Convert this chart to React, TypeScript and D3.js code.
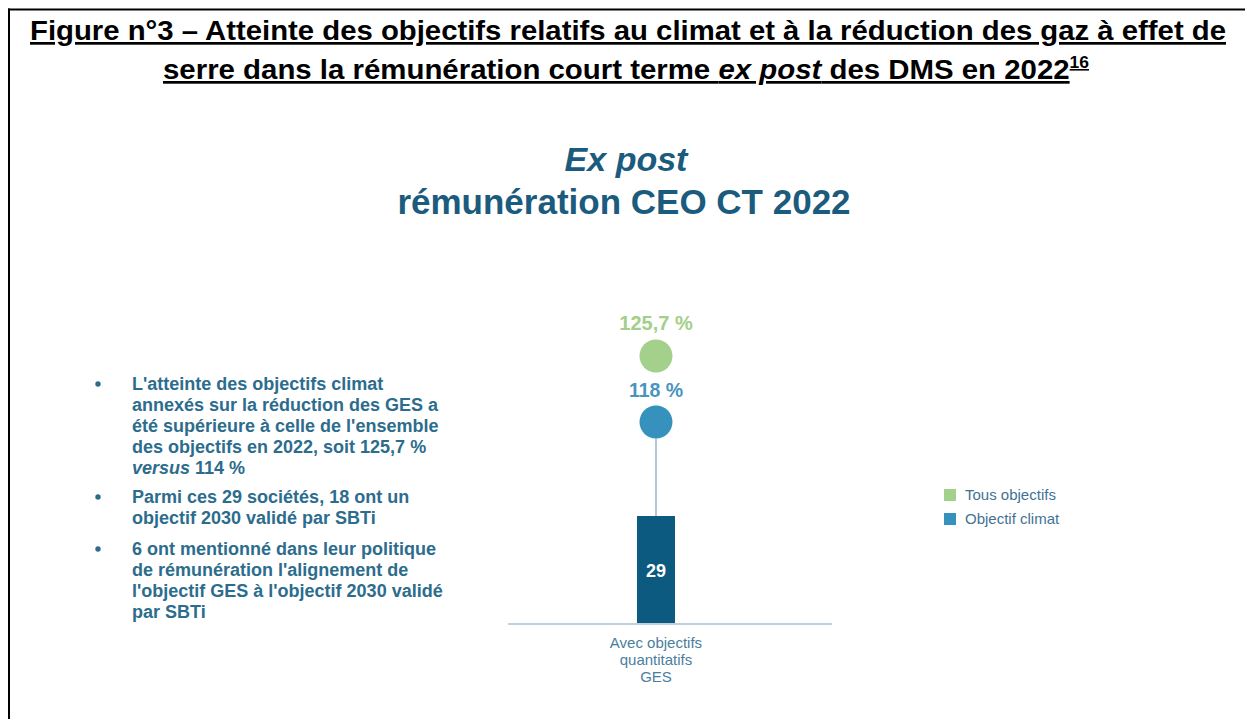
import React from "react";
import * as d3 from "d3";

// ---------- data ----------
const categories = ["Avec objectifs quantitatifs GES"];
const categoryLabelLines = [["Avec objectifs", "quantitatifs", "GES"]];
const barValues = [29]; // nombre de sociétés
const seriesNames = ["Tous objectifs", "Objectif climat"];
const tousObjectifs = [125.7];
const objectifClimat = [118];

const bullets: string[][] = [
  [
    "L'atteinte des objectifs climat",
    "annexés sur la réduction des GES a",
    "été supérieure à celle de l'ensemble",
    "des objectifs en 2022, soit 125,7 %",
    "§versus§ 114 %",
  ],
  ["Parmi ces 29 sociétés, 18 ont un", "objectif 2030 validé par SBTi"],
  [
    "6 ont mentionné dans leur politique",
    "de rémunération l'alignement de",
    "l'objectif GES à l'objectif 2030 validé",
    "par SBTi",
  ],
];

// ---------- styles ----------
const FONT = "'Liberation Sans', Arial, Helvetica, sans-serif";
const C = {
  chartTitle: "#1b5b7d",
  bar: "#0c5a80",
  green: "#a3d18b",
  blue: "#3791bd",
  greenLabel: "#a2cf89",
  blueLabel: "#4795bf",
  stem: "#9dbdd1",
  axis: "#a9c3d3",
  cat: "#4a7ea0",
  legend: "#3f7394",
  bullet: "#2c6c8d",
};

const frLocale = d3.formatLocale({
  decimal: ",",
  thousands: " ",
  grouping: [3],
  currency: ["", " €"],
});
const fmtPct = (v: number) =>
  (Number.isInteger(v) ? frLocale.format("d")(v) : frLocale.format(".1f")(v)) + " %";

export default function App() {
  const W = 1245;
  const H = 719;

  const x = d3
    .scaleBand<string>()
    .domain(categories)
    .range([508, 832])
    .paddingInner(0)
    .paddingOuter(3.763)
    .align(0.451);

  const yCount = d3
    .scaleLinear()
    .domain([0, d3.max(barValues) as number])
    .range([623, 516]);

  const pctExtent = d3.extent([...tousObjectifs, ...objectifClimat]) as [number, number];
  const yPct = d3.scaleLinear().domain(pctExtent).range([422, 356]);

  const R = 16.5;
  const bw = x.bandwidth();

  const bulletBase = [390, 503, 555];
  const lineStep = 21;

  return (
    <svg
      width={W}
      height={H}
      viewBox={`0 0 ${W} ${H}`}
      style={{ position: "absolute", left: 0, top: 0, background: "#fff" }}
      fontFamily={FONT}
    >
      <rect x={0} y={0} width={W} height={H} fill="#fff" />
      {/* frame */}
      <line x1={8} x2={W} y1={9.5} y2={9.5} stroke="#000" strokeWidth={2} />
      <line x1={9} x2={9} y1={8.5} y2={H} stroke="#000" strokeWidth={2} />

      {/* figure title */}
      <text
        x={628}
        y={40}
        textAnchor="middle"
        fontSize={27}
        fontWeight="bold"
        fill="#000"
        textDecoration="underline"
        textLength={1196}
        lengthAdjust="spacingAndGlyphs"
      >
        Figure n°3 – Atteinte des objectifs relatifs au climat et à la réduction des gaz à effet de
      </text>
      <text
        x={626}
        y={79}
        textAnchor="middle"
        fontSize={27}
        fontWeight="bold"
        fill="#000"
        textDecoration="underline"
        textLength={926}
        lengthAdjust="spacingAndGlyphs"
      >
        serre dans la rémunération court terme <tspan fontStyle="italic">ex post</tspan> des DMS en 2022
        <tspan fontSize={16} dy={-11}>16</tspan>
      </text>

      {/* chart title */}
      <text x={626} y={171} textAnchor="middle" fontSize={34} fontWeight="bold" fontStyle="italic" fill={C.chartTitle}>
        Ex post
      </text>
      <text x={624} y={214} textAnchor="middle" fontSize={35} fontWeight="bold" fill={C.chartTitle}>
        rémunération CEO CT 2022
      </text>

      {/* bullets */}
      {bullets.map((lines, bi) => (
        <g key={bi}>
          <circle cx={98} cy={bulletBase[bi] - 6} r={2.7} fill={C.bullet} />
          {lines.map((ln, li) => {
            const parts = ln.split("§");
            return (
              <text
                key={li}
                x={132}
                y={bulletBase[bi] + li * lineStep}
                fontSize={18}
                fontWeight="bold"
                fill={C.bullet}
              >
                {parts.map((p, pi) => (
                  <tspan key={pi} fontStyle={pi % 2 === 1 ? "italic" : "normal"}>
                    {p}
                  </tspan>
                ))}
              </text>
            );
          })}
        </g>
      ))}

      {/* chart */}
      {categories.map((cat, i) => {
        const cx = (x(cat) as number) + bw / 2;
        const yG = yPct(tousObjectifs[i]);
        const yB = yPct(objectifClimat[i]);
        const yTop = yCount(barValues[i]);
        return (
          <g key={cat}>
            <line x1={cx} x2={cx} y1={yB + R} y2={yTop} stroke={C.stem} strokeWidth={1.6} />
            <rect
              x={x(cat) as number}
              y={yTop}
              width={bw}
              height={yCount(0) - yTop}
              fill={C.bar}
            />
            <text
              x={cx}
              y={(yTop + yCount(0)) / 2 + 7}
              textAnchor="middle"
              fontSize={18}
              fontWeight="bold"
              fill="#fff"
            >
              {barValues[i]}
            </text>
            <circle cx={cx} cy={yG} r={R} fill={C.green} />
            <text x={cx} y={yG - 26} textAnchor="middle" fontSize={20} fontWeight="bold" fill={C.greenLabel}>
              {fmtPct(tousObjectifs[i])}
            </text>
            <circle cx={cx} cy={yB} r={R} fill={C.blue} />
            <text x={cx} y={yB - 25} textAnchor="middle" fontSize={19.5} fontWeight="bold" fill={C.blueLabel}>
              {fmtPct(objectifClimat[i])}
            </text>
            {categoryLabelLines[i].map((t, k) => (
              <text key={k} x={cx} y={648 + k * 17} textAnchor="middle" fontSize={15} fill={C.cat}>
                {t}
              </text>
            ))}
          </g>
        );
      })}
      {/* axis baseline */}
      <line
        x1={x.range()[0]}
        x2={x.range()[1]}
        y1={yCount(0) + 1}
        y2={yCount(0) + 1}
        stroke={C.axis}
        strokeWidth={1.6}
      />

      {/* legend */}
      {seriesNames.map((s, i) => (
        <g key={s} transform={`translate(944, ${489 + i * 24})`}>
          <rect x={0} y={0} width={12} height={12} fill={i === 0 ? C.green : C.blue} />
          <text x={21} y={11} fontSize={15} fill={C.legend}>
            {s}
          </text>
        </g>
      ))}
    </svg>
  );
}
